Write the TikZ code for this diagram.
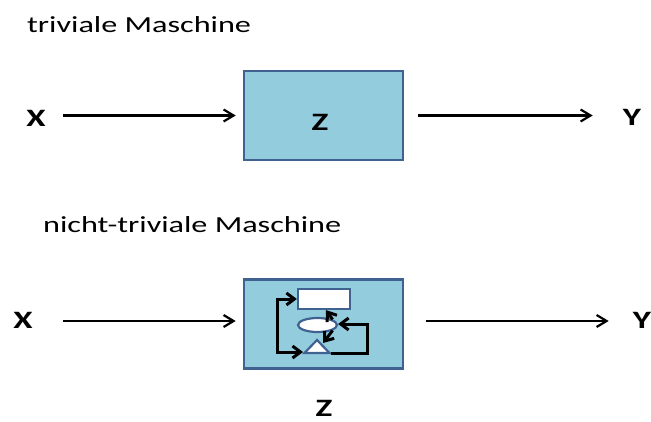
\documentclass[tikz,border=0pt]{standalone}
\usepackage{fontspec}
\setmainfont{Carlito}[FakeStretch=1.4]
\usetikzlibrary{arrows.meta,shapes.geometric}
\definecolor{boxfill}{RGB}{147,205,221}
\definecolor{boxline}{RGB}{64,98,145}
\tikzstyle{every node}=[inner sep=0pt]
\tikzstyle{machine}=[draw=boxline,fill=boxfill,line width=2.6pt,minimum width=159pt,minimum height=89pt]
\tikzstyle{letter}=[font=\fontsize{25}{28}\selectfont\bfseries]
\tikzstyle{title}=[font=\fontsize{23}{26}\selectfont,anchor=base west]
\tikzstyle{flow}=[-{Straight Barb[length=10pt,width=12pt,line width=2.2pt]},line width=2.2pt]
\tikzstyle{part}=[draw=boxline,fill=white,line width=2.2pt]
\tikzstyle{loop}=[-{Straight Barb[length=8pt,width=12pt]},line width=3pt]

\begin{document}
\begin{tikzpicture}[x=1pt,y=-1pt]
\useasboundingbox (0,0) rectangle (651,421);
% triviale Maschine
\draw (27,32)node[title]{triviale Maschine};
\draw (323.5,115.5)node (box1)[machine]{};
\draw (320,122)node (z1)[letter]{Z};
\draw (36,118)node (x1)[letter]{X};
\draw (632,117)node (y1)[letter]{Y};
\draw[flow] ([xshift=17pt]x1.east|-box1.west) -- ([xshift=-7pt]box1.west);
\draw[flow] ([xshift=14pt]box1.east) -- ([xshift=-30pt]y1.west|-box1.east);
% nicht-triviale Maschine
\draw (43,232)node[title]{nicht-triviale Maschine};
\draw (323.5,324)node (box2)[machine]{};
\draw (324,408)node (z2)[letter]{Z};
\draw (23,320)node (x2)[letter]{X};
\draw (642,320)node (y2)[letter]{Y};
\draw[flow] ([xshift=30pt]x2.east|-0,321) -- ([xshift=-7pt]box2.west|-0,321);
\draw[flow] ([xshift=22pt]box2.east|-0,321) -- ([xshift=-24pt]y2.west|-0,321);
% inneres Schema
\draw (324,299)node (mem)[part,rectangle,minimum width=52pt,minimum height=20pt]{};
\draw (317.5,325)node (st)[part,ellipse,minimum width=39pt,minimum height=14pt]{};
\coordinate (tri) at (317.5,353);
\draw[part,line join=miter] (tri)++(-13,0) -- ++(12.5,-13) -- ++(12.5,13) -- cycle;
\coordinate (tl) at (303,352);
\coordinate (tr) at (331,353);
\draw[loop,{Straight Barb[length=8pt,width=12pt]}-{Straight Barb[length=8pt,width=12pt]}] (mem.west) -- (277,299) -- (277,352) -- (tl);
\draw[loop,line join=miter] (tr) -- (367,353) -- (367,324) -- (st.east|-0,324);
\draw[loop] (st.20) -- ([xshift=2pt]mem.south);
\draw[loop] (st.-20) -- (323,343);
\end{tikzpicture}
\end{document}
